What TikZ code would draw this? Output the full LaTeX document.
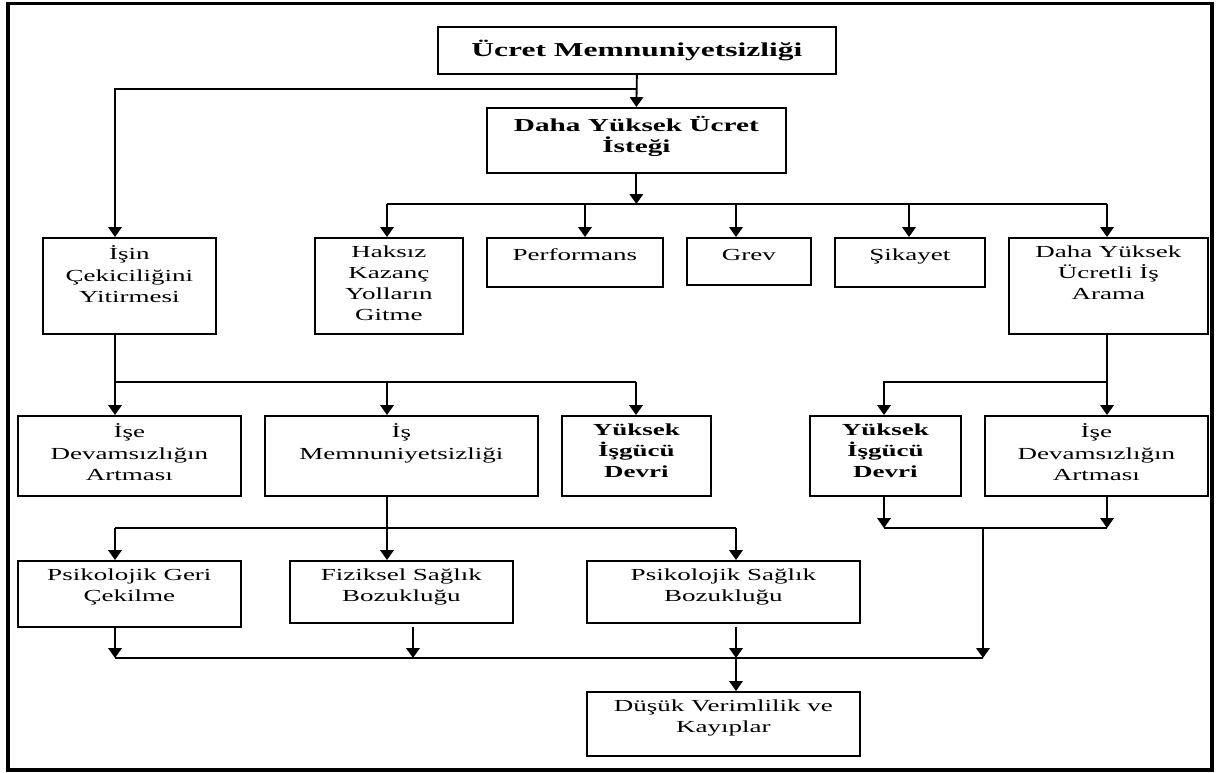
\documentclass[tikz,border=0pt]{standalone}
\usepackage{fontspec}
\setmainfont{Liberation Serif}[FakeStretch=1.6]
\usetikzlibrary{arrows.meta,calc}
\tikzset{
  box/.style={draw,line width=1.2pt,inner sep=0pt,anchor=north west},
  tag/.style={anchor=north,align=center,inner sep=0pt,yshift=-6.2pt,
    font=\fontsize{12}{15}\selectfont,execute at begin node=\strut},
  tagb/.style={tag,font=\bfseries\fontsize{12}{15}\selectfont},
  wire/.style={line width=1.3pt},
  flow/.style={wire,-{Triangle[width=9.5pt,length=7pt]}},
  border/.style={line width=2.6pt}
}

\begin{document}
\begin{tikzpicture}[x=0.025cm,y=-0.025cm]
  \useasboundingbox (0,0) rectangle (1217,772);
  \draw[border] (8,3.5) rectangle (1212,770);

  % columns and rows of the connectors
  \coordinate (xa) at (115,0);
  \coordinate (xb) at (387,0);
  \coordinate (xp) at (585,0);
  \coordinate (xc) at (636,0);
  \coordinate (xd) at (736,0);
  \coordinate (xe) at (884,0);
  \coordinate (xs) at (909,0);
  \coordinate (xf) at (983,0);
  \coordinate (xg) at (1107,0);
  \coordinate (xz) at (413,0);
  \coordinate (ya) at (0,89);
  \coordinate (yb) at (0,204);
  \coordinate (yc) at (0,382);
  \coordinate (yd) at (0,528);
  \coordinate (ye) at (0,658);

  % boxes
  \node[box,minimum width=9.95cm,minimum height=1.175cm,
    font=\bfseries\fontsize{14}{17}\selectfont] (ucret) at (437,26) {Ücret Memnuniyetsizliği};
  \node[box,minimum width=7.475cm,minimum height=1.625cm,
    label={[tagb,font=\bfseries\fontsize{13}{15}\selectfont]north:{Daha Yüksek Ücret\\İsteği}}] (daha) at (486,107) {};

  \node[box,minimum width=4.325cm,minimum height=2.4cm,
    label={[tag]north:{İşin\\Çekiciliğini\\Yitirmesi}}] (isin) at (42,237) {};
  \node[box,minimum width=3.7cm,minimum height=2.4cm,
    label={[tag]north:{Haksız\\Kazanç\\Yolların\\Gitme}}] (haksiz) at (314,237) {};
  \node[box,minimum width=4.4cm,minimum height=1.225cm,
    label={[tag]north:Performans}] (perf) at (486,237) {};
  \node[box,minimum width=3.1cm,minimum height=1.175cm,
    label={[tag]north:Grev}] (grev) at (686,237) {};
  \node[box,minimum width=3.75cm,minimum height=1.225cm,
    label={[tag]north:Şikayet}] (sikayet) at (834,237) {};
  \node[box,minimum width=4.975cm,minimum height=2.4cm,
    label={[tag]north:{Daha Yüksek\\Ücretli İş\\Arama}}] (arama) at (1008,237) {};

  \node[box,minimum width=5.575cm,minimum height=2cm,
    label={[tag]north:{İşe\\Devamsızlığın\\Artması}}] (devL) at (17,415) {};
  \node[box,minimum width=6.825cm,minimum height=2cm,
    label={[tag]north:{İş\\Memnuniyetsizliği}}] (ism) at (264,415) {};
  \node[box,minimum width=3.725cm,minimum height=2cm,
    label={[tagb]north:{Yüksek\\İşgücü\\Devri}}] (yidL) at (561,415) {};
  \node[box,minimum width=3.775cm,minimum height=2cm,
    label={[tagb]north:{Yüksek\\İşgücü\\Devri}}] (yidR) at (809,415) {};
  \node[box,minimum width=5.575cm,minimum height=2cm,
    label={[tag]north:{İşe\\Devamsızlığın\\Artması}}] (devR) at (984,415) {};

  \node[box,minimum width=5.575cm,minimum height=1.65cm,
    label={[tag]north:{Psikolojik Geri\\Çekilme}}] (geri) at (17,560) {};
  \node[box,minimum width=5.575cm,minimum height=1.55cm,
    label={[tag]north:{Fiziksel Sağlık\\Bozukluğu}}] (fiz) at (289,560) {};
  \node[box,minimum width=6.825cm,minimum height=1.55cm,
    label={[tag]north:{Psikolojik Sağlık\\Bozukluğu}}] (psk) at (586,560) {};
  \node[box,minimum width=6.825cm,minimum height=1.6cm,
    label={[tag]north:{Düşük Verimlilik ve\\Kayıplar}}] (dusuk) at (586,691) {};

  % top levels
  \draw[flow] (ucret.south) -- (daha.north);
  \draw[flow] (ucret.south |- ya) -| (isin.north -| xa);
  \draw[flow] (daha.south) -- (daha.south |- yb);
  \draw[wire] (xb |- yb) -- (xg |- yb);
  \foreach \n/\c in {haksiz/xb,perf/xp,grev/xd,sikayet/xs,arama/xg}
    \draw[flow] (\c |- yb) -- (\n.north -| \c);

  % third row
  \draw[wire] (isin.south -| xa) -- (xa |- yc) -- (xc |- yc);
  \foreach \n/\c in {devL/xa,ism/xb,yidL/xc}
    \draw[flow] (\c |- yc) -- (\n.north -| \c);
  \draw[flow] (arama.south -| xg) -- (devR.north -| xg);
  \draw[flow] (xg |- yc) -| (yidR.north -| xe);

  % fourth row
  \draw[flow] (ism.south -| xb) -- (fiz.north -| xb);
  \draw[wire] (xa |- yd) -- (xd |- yd);
  \draw[flow] (xa |- yd) -- (geri.north -| xa);
  \draw[flow] (xd |- yd) -- (psk.north -| xd);
  \draw[flow] (yidR.south -| xe) -- (xe |- yd);
  \draw[flow] (devR.south -| xg) -- (xg |- yd);
  \draw[wire] (xe |- yd) -- (xg |- yd);
  \draw[flow] (xf |- yd) -- (xf |- ye);

  % bottom
  \draw[flow] (geri.south -| xa) -- (xa |- ye);
  \draw[flow,shorten <=2pt] (fiz.south -| xz) -- (xz |- ye);
  \draw[flow,shorten <=2pt] (psk.south -| xd) -- (xd |- ye);
  \draw[wire] (xa |- ye) -- (xf |- ye);
  \draw[flow] (xd |- ye) -- (dusuk.north -| xd);
\end{tikzpicture}
\end{document}
